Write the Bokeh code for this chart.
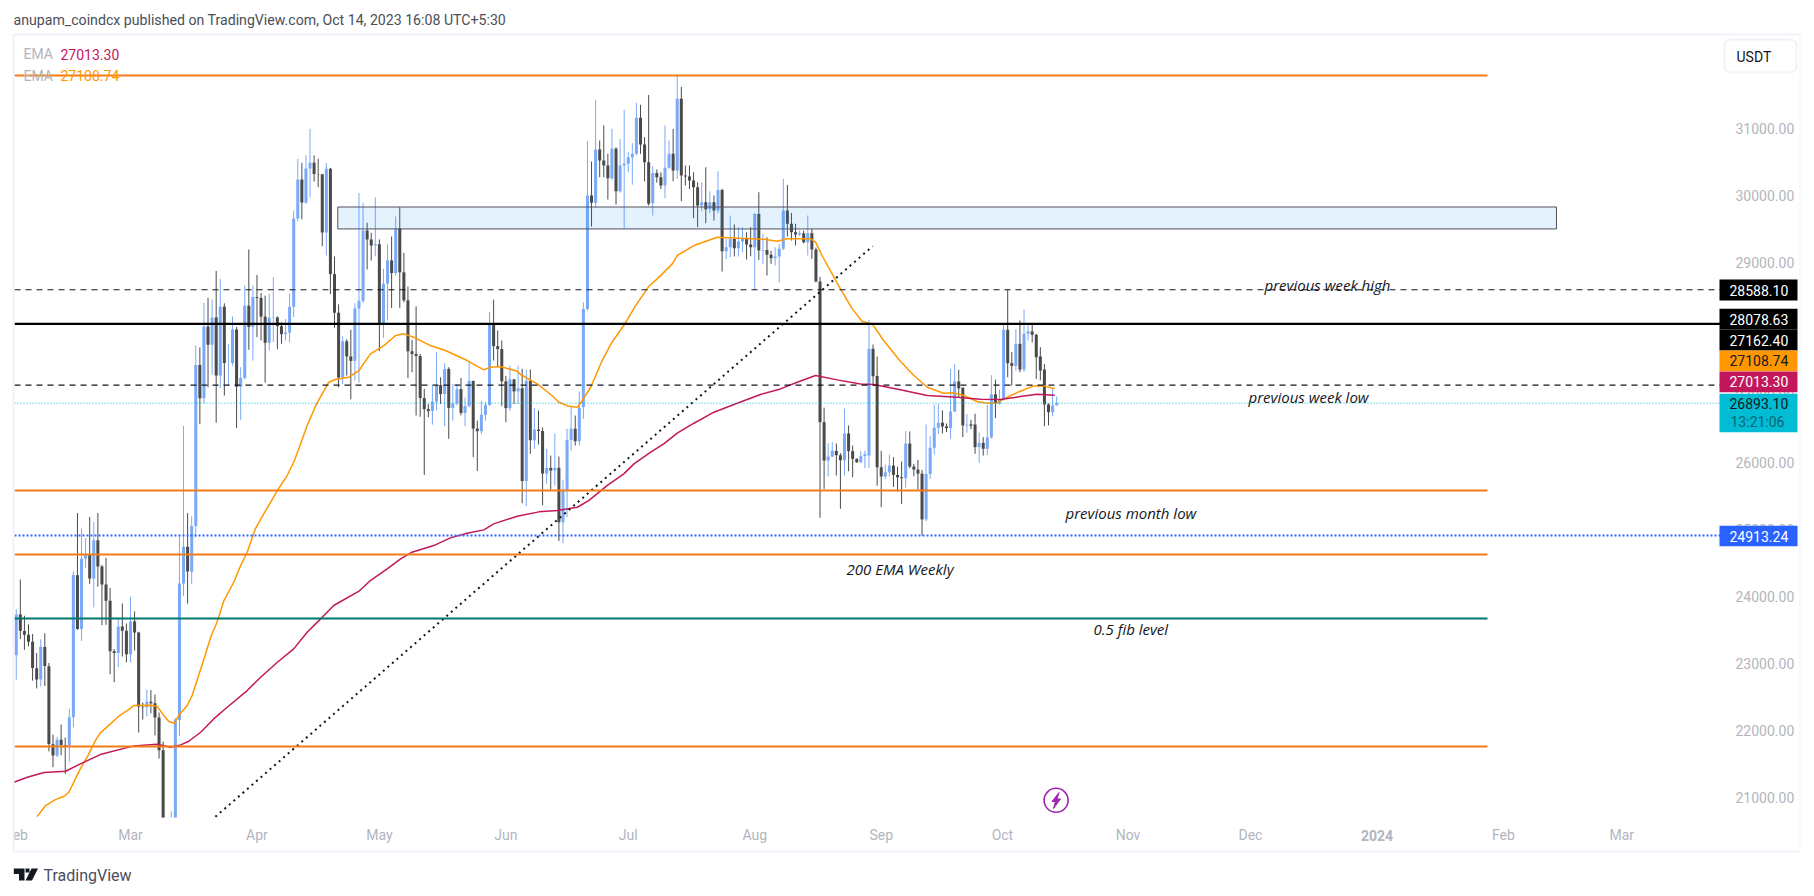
from bokeh.plotting import figure
from bokeh.embed import file_html
from bokeh.resources import INLINE
from bokeh.models import (Range1d, Label, BoxAnnotation, PolyAnnotation, FixedTicker,
                          NumeralTickFormatter)

# ---- candles: one entry per day, Feb 1 2023 .. Oct 14 2023; day 0 = Mar 1 2023 ----
first_day = -28
open_ = [
 23125,23732,23489,23431,23327,22932,22763,23249,22961,21795,21628,21863,21782,21773,22199,24322,23517,24568,24632,24272,24843,24451,24182,23940,23184,23157,23554,23492,
 23141,23629,23466,22355,22346,22431,22409,22194,21705,20362,20187,20632,22156,24197,24746,24373,25055,27463,26965,28038,27767,28175,27308,28333,27493,27494,27994,27139,27268,28348,28032,
 28478,28465,28186,27795,28170,28175,28044,27925,27947,28333,29653,30235,29892,30399,30485,30318,30315,29445,30397,28822,28245,27276,27817,27591,27525,28307,28422,29473,29340,29248,
 29268,28091,28680,29027,28838,29506,28849,28430,27668,27628,27598,26969,26805,26775,26917,27163,27030,27405,26822,26890,27102,26747,26849,27226,26513,26474,26720,26868,28085,27745,27702,
 27219,26819,27249,27069,27115,25728,27230,26339,26498,26477,25841,25925,25885,25927,25113,25597,26345,26510,26325,26832,28300,29997,29887,30684,30520,30445,30256,30694,30061,30445,
 30471,30570,30620,31158,30760,30495,29882,30335,30270,30146,30410,30620,30370,31442,30295,30280,30220,30120,29847,29897,29792,29897,29772,30081,29164,29224,29349,29209,29309,29349,29264,
 29224,29722,29174,29184,29110,29060,29085,29200,29772,29573,29448,29414,29434,29300,29434,29190,28711,26609,26036,26095,26180,26115,26040,26440,26175,26060,26010,26100,26110,27705,27300,
 25935,25796,25860,25960,25820,25785,25770,26290,25945,25900,25840,25155,25835,26226,26525,26600,26545,26520,26768,27217,27125,26560,26575,26575,26235,26300,26210,26380,27026,26885,
 26950,27990,27490,27450,27780,27396,27930,27965,27915,27590,27396,26873,26758,26860]
high = [
 23812,24255,23715,23587,23442,23158,23364,23452,23011,21938,21906,22090,21894,22327,24380,25250,25021,24877,25192,25121,25250,24476,24580,24132,23219,23689,23897,23600,
 24000,23780,23476,22419,22613,22605,22536,22270,21834,20367,20792,22185,24900,26553,25250,25200,27756,27725,28390,28467,28440,28870,28750,28386,27780,28188,28030,27430,28650,29190,28650,
 28810,28540,28500,28527,28775,28190,28100,28150,28530,29770,30545,30485,30600,30993,30595,30545,30320,30485,30410,29085,28370,27890,27850,27990,28387,30036,29887,29590,29440,29970,
 29340,28900,29266,29385,29683,29822,29140,28636,27840,28340,27630,27106,26880,27156,27655,27280,27490,27430,27180,27180,27270,26980,27505,27226,26633,26930,26907,28260,28440,27980,27830,
 27300,27455,27255,27455,27407,27396,27396,26820,26783,26530,26210,26110,26440,26095,25750,26510,26843,26708,27065,28400,30809,30505,31427,30820,31043,30620,30993,30720,30844,31277,
 30644,30780,31382,31352,30870,31500,30435,30385,30345,31043,30819,30993,31806,31621,30445,30445,30345,30195,30195,30420,30060,29997,30360,30097,29349,29698,29563,29523,29523,29448,29523,
 29737,30046,29424,29374,29170,29224,29274,30246,30156,29737,29573,29473,29473,29698,29498,29220,28780,26825,26295,26310,26290,26145,26813,26560,26260,26070,26180,26180,28139,27770,27590,
 26180,25975,26125,26085,25945,26020,26480,26470,25985,26045,25895,26574,26400,26873,26880,26785,26590,27405,27480,27390,27125,26730,26645,26735,26455,26385,26870,27310,27245,27095,
 28080,28588,27660,28000,28129,28293,28055,28070,27930,27730,27480,26890,27108,26993]
low = [
 22760,23366,23204,23258,22745,22628,22657,22665,21688,21451,21599,21630,21351,21532,22047,23505,23339,24430,24192,23840,24148,23574,23580,22841,22722,22950,23106,23020,
 23020,23195,21971,22162,22212,22257,21927,21580,19569,19549,20042,20455,21918,24011,23896,24188,24890,26578,26890,27130,27320,26600,27115,27006,27156,27450,26520,26640,27250,27690,27530,
 27880,27830,27200,27680,27810,27700,27780,27830,27800,28178,29610,29640,29870,29970,30205,30120,29240,29100,28525,28020,27130,27180,27305,26950,27230,27200,28390,28890,29025,29089,
 27670,27870,28130,28317,28800,28317,28400,27266,27355,26708,26690,25820,26683,26573,26785,26880,26550,26360,26630,26860,26710,26550,26830,26085,25880,26430,26633,26850,27530,27430,26850,
 26608,26780,26880,26880,25397,25353,26135,26210,26275,25368,25690,25600,25660,24830,24800,25190,26185,26260,26260,26658,28277,29533,29812,30270,30270,29937,30230,29862,30040,29498,
 30345,30160,30595,30620,30210,29847,29698,30190,30095,29957,30395,30210,30245,29912,30145,30095,29658,29523,29762,29583,29730,29623,29732,28860,29050,29075,29085,29085,29150,29040,29090,
 28590,29035,28975,28801,28975,28950,28700,29180,29384,29324,29250,29390,29280,29100,29050,28700,25179,25612,25796,26085,25810,25314,25815,25875,25786,26000,25995,25920,25925,27157,25660,
 25340,25760,25796,25640,25570,25385,25630,25920,25800,25600,24913,25130,25760,26125,26430,26440,26460,26360,26760,26980,26385,26450,26505,26135,26000,26110,26115,26365,26670,26870,
 26935,27280,27157,27380,27355,27360,27830,27800,27257,27235,26550,26560,26695,26860]
close = [
 23733,23491,23431,23327,22933,22762,23250,22963,21797,21625,21863,21784,21773,22199,24324,23517,24569,24631,24271,24842,24452,24182,23940,23185,23157,23554,23492,23141,
 23628,23465,22354,22346,22430,22409,22194,21705,20362,20187,20632,22163,24197,24746,24375,25055,27463,26965,28038,27767,28175,27307,28333,27493,27494,27994,27139,27268,28348,28032,28478,
 28465,28186,27795,28170,28175,28044,27925,27947,28333,29653,30235,29892,30399,30485,30318,30315,29445,30397,28822,28245,27276,27817,27591,27525,28307,28422,29473,29340,29248,29268,
 28091,28680,29027,28838,29506,28849,28430,27668,27628,27598,26969,26805,26775,26917,27163,27030,27405,26822,26890,27102,26747,26849,27226,26513,26474,26720,26868,28085,27745,27702,27219,
 26819,27249,27069,27115,25728,27230,26339,26498,26477,25841,25925,25885,25927,25113,25597,26345,26510,26325,26823,28300,29997,29887,30684,30520,30445,30256,30694,30061,30445,30471,
 30570,30620,31158,30760,30495,29872,30335,30270,30146,30410,30620,30370,31442,30295,30280,30220,30120,29847,29897,29792,29897,29772,30081,29164,29224,29349,29209,29309,29349,29264,29224,
 29722,29174,29184,29110,29060,29085,29200,29772,29573,29448,29414,29434,29300,29434,29190,28711,26609,26036,26095,26180,26115,26040,26440,26175,26060,26010,26100,26130,27705,27296,25935,
 25796,25860,25960,25820,25785,25770,26290,25945,25900,25840,25155,25835,26226,26525,26600,26545,26520,26768,27217,27115,26560,26570,26555,26235,26300,26210,26380,27026,26885,26950,
 27990,27490,27450,27780,27396,27930,27965,27915,27580,27380,26873,26758,26860,26893]

# ---- EMA curves (day, price) ----
ema_slow_days = [-28.6,-25.3,-21.2,-15.9,-12.3,-7.4,0.8,6.5,9.8,12.3,14.3,17.2,20.4,23.7,28.6,31.9,36,40,43.3,46.6,49.8,56,58.8,62.9,66.2,69,74.3,78.4,82.5,86.6,89,94.8,100.1,104.6,109.5,112.3,116.8,120.9,123.4,127.5,130.7,134,138.1,143,148.7,154.4,159.3,163.4,167.9,173.2,178.9,182.2,188.7,195.3,202.6,208.3,213.2,218.1,222.2,226.5]
ema_slow_vals = [21227,21301,21371,21391,21501,21640,21770,21795,21750,21785,21839,21974,22173,22348,22597,22796,23020,23220,23469,23668,23868,24082,24241,24416,24565,24665,24764,24879,24949,24999,25088,25203,25268,25288,25337,25437,25661,25836,25985,26160,26284,26444,26593,26758,26892,27022,27106,27206,27306,27241,27181,27171,27092,27007,26982,26952,26947,26992,27027,27013]
ema_fast_days = [-22.9,-20.8,-18.4,-16.3,-15.1,-13.5,-12.3,-10.2,-8.6,-7.4,-4.9,-2.9,-0.8,0.8,4.9,6.5,8.2,9.4,10.8,11.8,13.9,15.1,16.3,18,19.8,21.2,22.9,25.3,27,28.6,30.6,32.2,36,38.4,40,41.1,43.3,45.6,48.6,50.2,53.5,56,58.8,62.1,65,67,69.4,73.5,77.2,82.5,86.6,88.2,90.7,94.8,95.6,99.7,103.3,105,107.4,109.6,110.7,112.8,115.6,118,120.9,123.8,127,129.1,132.8,134,138.1,143.8,149.5,155.2,158.5,161,166.7,167.9,169.5,172.4,174,176.9,179.3,181.8,184.6,188.7,192,195.3,199.3,201.8,204.2,207.5,210,212.4,214.9,218.1,221.4,223.9,226.5]
ema_fast_vals = [20713,20878,20967,21017,21077,21276,21426,21650,21849,21964,22099,22213,22298,22373,22378,22363,22223,22133,22109,22223,22373,22522,22746,23070,23419,23618,23942,24216,24465,24665,25014,25188,25587,25811,26010,26185,26558,26882,27206,27246,27281,27381,27630,27754,27904,27929,27879,27754,27680,27530,27390,27430,27440,27371,27321,27181,27007,26907,26847,26832,26932,27131,27530,27804,28053,28352,28636,28751,28975,29100,29249,29374,29359,29344,29314,29349,29349,29299,29100,28776,28601,28302,28118,28078,27829,27520,27306,27131,27042,27047,27007,26917,26892,26897,26982,27072,27151,27151,27108]

# ---- horizontal levels and drawings ----
orange_levels = [31791, 25587, 24631, 21761]
orange_end_day = 332.6
green_level = 23674
dashed_levels = [28588.10, 27162.40]
black_level = 28078.63
blue_level = 24913.24
last_price = 26893.10
zone_days = [50.8, 349.5]
zone_prices = [29497, 29825]
trend_days = [20.8, 181.9]
trend_prices = [20710, 29239]

# ---- axis texts ----
month_days = [-27, 0, 31, 61, 92, 122, 153, 184, 213.7, 244.5, 274.5, 336.5, 365.5]
month_names = ["eb", "Mar", "Apr", "May", "Jun", "Jul", "Aug", "Sep", "Oct", "Nov", "Dec", "Feb", "Mar"]
year_label = "2024"
price_ticks = [21000, 22000, 23000, 24000, 25000, 26000, 27000, 28000, 29000, 30000, 31000]

# page pixel <-> value mapping of the pane
def X(px): return (px - 130) / 4.08
def Y(py): return 29000 - (py - 261.7) * 14.948

PANE_L, PANE_R, PANE_B = 14, 1720, 817
FONT = "Roboto"
MUTED = "#b2b5be"
INK = "#131722"

days = [first_day + i for i in range(len(close))]
assert len(open_) == len(high) == len(low) == len(close)
up = [c >= o for o, c in zip(open_, close)]
UP_COL, DN_COL = "#7aa9f7", "#4a4a4a"
cols = [UP_COL if u else DN_COL for u in up]

# the frame covers the whole canvas so that chrome texts and tags can sit anywhere;
# the real axes reach back into it with a negative standoff
p = figure(width=1806, height=888, frame_width=1800, frame_height=884,
           min_border_left=0, min_border_right=6, min_border_top=0, min_border_bottom=4,
           x_range=Range1d(X(0), X(1800)), y_range=Range1d(Y(884), Y(0)),
           y_axis_location="right", output_backend="svg", toolbar_location=None,
           background_fill_color="white", border_fill_color="white")
p.outline_line_color = None
p.grid.visible = False

p.yaxis.ticker = FixedTicker(ticks=price_ticks)
p.yaxis.formatter = NumeralTickFormatter(format="0.00")
p.yaxis.axis_line_color = None
p.yaxis.major_tick_line_color = None
p.yaxis.minor_tick_line_color = None
p.yaxis.major_label_text_color = MUTED
p.yaxis.major_label_text_font = FONT
p.yaxis.major_label_text_font_size = "14px"
p.yaxis.major_label_standoff = -71

p.xaxis.ticker = FixedTicker(ticks=month_days)
p.xaxis.major_label_overrides = dict(zip(month_days, month_names))
p.xaxis.axis_line_color = None
p.xaxis.major_tick_line_color = None
p.xaxis.minor_tick_line_color = None
p.xaxis.major_label_text_color = MUTED
p.xaxis.major_label_text_font = FONT
p.xaxis.major_label_text_font_size = "14px"
p.xaxis.major_label_standoff = -64

# candles: the pane ends above the time axis, so marks are cut off at its lower edge
floor = Y(PANE_B)
cut = lambda v: [max(a, floor) for a in v]
p.segment(days, cut(low), days, cut(high), color=cols, line_width=1)
p.vbar(days, top=cut([max(o, c) for o, c in zip(open_, close)]),
       bottom=cut([min(o, c) for o, c in zip(open_, close)]), width=0.74,
       fill_color=cols, line_color=None)

# zone
p.quad(left=[zone_days[0]], right=[zone_days[1]], bottom=[zone_prices[0]], top=[zone_prices[1]],
       fill_color="#2196f3", fill_alpha=0.12, line_color="#50535e", line_width=1)

# EMAs
p.line(ema_fast_days, ema_fast_vals, line_color="#ff9800", line_width=1.5)
p.line(ema_slow_days, ema_slow_vals, line_color="#c2185b", line_width=1.5)

# trend line
p.line(trend_days, trend_prices, line_color="#131722", line_width=2, line_dash="2 4")

# levels
left_edge, right_edge = X(PANE_L), X(PANE_R)
for lv in orange_levels:
    p.segment([left_edge], [lv], [orange_end_day], [lv], line_color="#f57c17", line_width=2.2)
p.segment([left_edge], [green_level], [orange_end_day], [green_level], line_color="#00796b", line_width=2.2)
for lv in dashed_levels:
    p.segment([left_edge], [lv], [right_edge], [lv], line_color="#131722", line_width=1.2, line_dash="6 5")
p.segment([left_edge], [black_level], [right_edge], [black_level], line_color="#000000", line_width=2.4)
p.segment([left_edge], [blue_level], [right_edge], [blue_level], line_color="#2962ff", line_width=2, line_dash="2 2")
p.segment([left_edge], [last_price], [right_edge], [last_price], line_color="#00bcd4", line_width=1, line_dash="1 2")

# lightning badge
p.scatter([X(1055.6)], [Y(799.8)], size=24, marker="circle", fill_color="white",
          line_color="#9c27b0", line_width=1.6)
p.patch([X(v) for v in (1058.5, 1051.5, 1055, 1053, 1060, 1056.5)],
        [Y(v) for v in (792, 801, 801, 808, 798.5, 798.5)], color="#9c27b0")


def text(txt, px, py, color=INK, size=14, align="left", font=FONT, style="normal"):
    p.add_layout(Label(x=X(px), y=Y(py), text=txt, text_color=color, text_font=font,
                       text_font_size=f"{size}px", text_align=align, text_baseline="middle",
                       text_font_style=style))


def box(x0, y0, x1, y1, fill=None, line=None, lw=1, radius=0):
    p.add_layout(BoxAnnotation(left=X(x0), right=X(x1), top=Y(y0), bottom=Y(y1),
                               fill_color=fill, fill_alpha=1 if fill else 0,
                               line_color=line, line_width=lw, line_alpha=1 if line else 0,
                               border_radius=radius))


# pane frame
box(13, 34, 1800, 851, line="#f0f3fa", lw=2)

# price tags
tags = [("28588.10", 279, 300, "#000000", "#ffffff"),
        ("28078.63", 308.3, 329, "#000000", "#ffffff"),
        ("27162.40", 329, 350, "#000000", "#ffffff"),
        ("27108.74", 350, 370.7, "#ff9800", "#131722"),
        ("27013.30", 371, 391.7, "#c2185b", "#ffffff"),
        ("24913.24", 525.3, 545.7, "#2962ff", "#ffffff")]
for t, y0, y1, bg, fg in tags:
    box(1719, y0, 1797, y1, fill=bg)
    text(t, 1729, (y0 + y1) / 2, color=fg)
box(1719, 393.3, 1797, 431.7, fill="#00bcd4")
text("26893.10", 1729, 403, color="#131722")
text("13:21:06", 1730, 421.7, color="#0b6472")

# USDT box
box(1724, 39, 1796, 72, line="#f0f3fa", lw=2, radius=6)
text("USDT", 1736, 56, color=INK, size=14)

# header and legend
text("anupam_coindcx published on TradingView.com, Oct 14, 2023 16:08 UTC+5:30", 13, 19.5, color="#4a4e59", size=14.15)
text("EMA", 23, 53.5, color=MUTED)
text("27013.30", 60, 53.5, color="#c2185b")
text("EMA", 23, 75, color=MUTED)
text("27108.74", 60, 75, color="#ff9800")

# year label
text(year_label, 1376.5, 835, color=MUTED, align="center", style="bold")

# drawing notes
note = dict(color="#131722", size=15, style="italic", font="Open Sans")
text("previous week high", 1264, 284.7, **note)
text("previous week low", 1248, 396.7, **note)
text("previous month low", 1065, 512.7, **note)
text("200 EMA Weekly", 846, 568, **note)
text("0.5 fib level", 1093, 628, **note)

# TradingView logo
for pts in ([(13.3, 868), (24, 868), (24, 880), (18.5, 880), (18.5, 873.5), (13.3, 873.5)],
            [(25, 868), (29, 868), (29, 872), (25, 872)],
            [(31, 868), (37.5, 868), (31.5, 880), (25, 880)]):
    p.add_layout(PolyAnnotation(xs=[X(a) for a, b in pts], ys=[Y(b) for a, b in pts],
                                fill_color="#131722", fill_alpha=1, line_alpha=0))
text("TradingView", 43, 875, color="#4a4e59", size=16)

open("out.html", "w").write(file_html(p, INLINE))
